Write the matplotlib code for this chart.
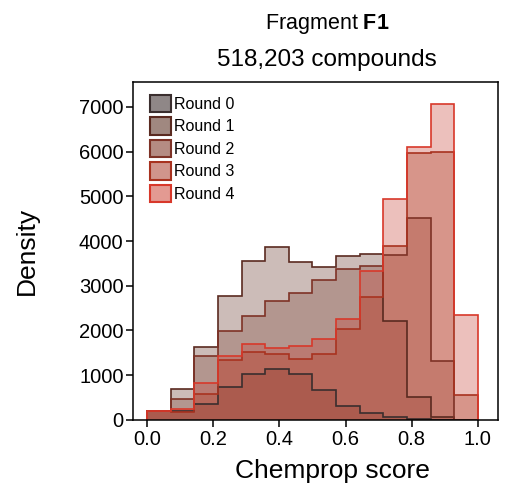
import numpy as np
import matplotlib
matplotlib.use("Agg")
import matplotlib.pyplot as plt
from matplotlib.patches import Patch

plt.rcParams['font.family'] = ['Liberation Sans', 'DejaVu Sans']
plt.rcParams['mathtext.fontset'] = 'custom'
plt.rcParams['mathtext.rm'] = 'Liberation Sans'
plt.rcParams['mathtext.bf'] = 'Liberation Sans:bold'

# ---- data: histogram heights per round (14 bins from 0 to 1) ----
bin_edges = np.linspace(0, 1, 15)
rounds = ["Round 0", "Round 1", "Round 2", "Round 3", "Round 4"]
round0 = [200, 200, 350, 730, 1020, 1130, 1020, 680, 310, 150, 60, 20, 0, 0]
round1 = [200, 690, 1630, 2760, 3550, 3870, 3530, 3410, 3660, 3720, 2210, 510, 70, 0]
round2 = [200, 470, 1430, 1990, 2320, 2660, 2830, 3130, 3370, 3440, 3680, 4520, 1310, 0]
round3 = [200, 170, 580, 1330, 1520, 1480, 1370, 1470, 2040, 2750, 3900, 5970, 5990, 560]
round4 = [210, 250, 820, 1420, 1690, 1600, 1650, 1810, 2250, 3340, 4930, 6110, 7060, 2350]
series = [round0, round1, round2, round3, round4]

# fill (drawn with alpha), edge, legend swatch
fills = ["#4a3c3c", "#6d4034", "#855043", "#a64227", "#c94b40"]
edges = ["#3a2e2e", "#5a2a20", "#7e3226", "#a8321f", "#d8382a"]
swatch = ["#8f8787", "#a08880", "#b58c83", "#d0958c", "#e39a92"]

fig = plt.figure(figsize=(5.05, 4.9), dpi=100)
ax = fig.add_axes([0.264, 0.143, 0.722, 0.690])

for vals, fc in zip(series, fills):
    ax.stairs(vals, bin_edges, fill=True, color=fc, alpha=0.35, lw=0)
for vals, ec in zip(series, edges):
    ax.stairs(vals, bin_edges, fill=False, color=ec, lw=1.2, baseline=0)

ax.set_xlim(-0.042, 1.061)
ax.set_ylim(0, 7560)
ax.set_xticks(np.arange(0, 1.01, 0.2))
ax.set_xticklabels(["0.0", "0.2", "0.4", "0.6", "0.8", "1.0"])
ax.set_yticks(range(0, 7001, 1000))
ax.tick_params(labelsize=14.5, length=5, width=1.1, direction="out", pad=2)
for s in ax.spines.values():
    s.set_linewidth(1.1)
ax.set_xlabel("Chemprop score", fontsize=19)
ax.set_ylabel("Density", fontsize=19)
ax.xaxis.set_label_coords(0.545, -0.115)
ax.yaxis.set_label_coords(-0.258, 0.5)

handles = [Patch(facecolor=sw, edgecolor=ec, lw=1.5) for sw, ec in zip(swatch, edges)]
ax.legend(handles, rounds, loc="upper left", frameon=False, fontsize=11.5,
          handlelength=1.3, handleheight=1.3, handletextpad=0.2,
          labelspacing=0.32, borderaxespad=0.4, bbox_to_anchor=(0.01, 1.0))

fig.text(0.648, 0.950, r"Fragment $\mathbf{F1}$", ha="center", va="center", fontsize=15.5)
fig.text(0.648, 0.878, "518,203 compounds", ha="center", va="center", fontsize=17.5)

fig.savefig("out.png", dpi=100)
